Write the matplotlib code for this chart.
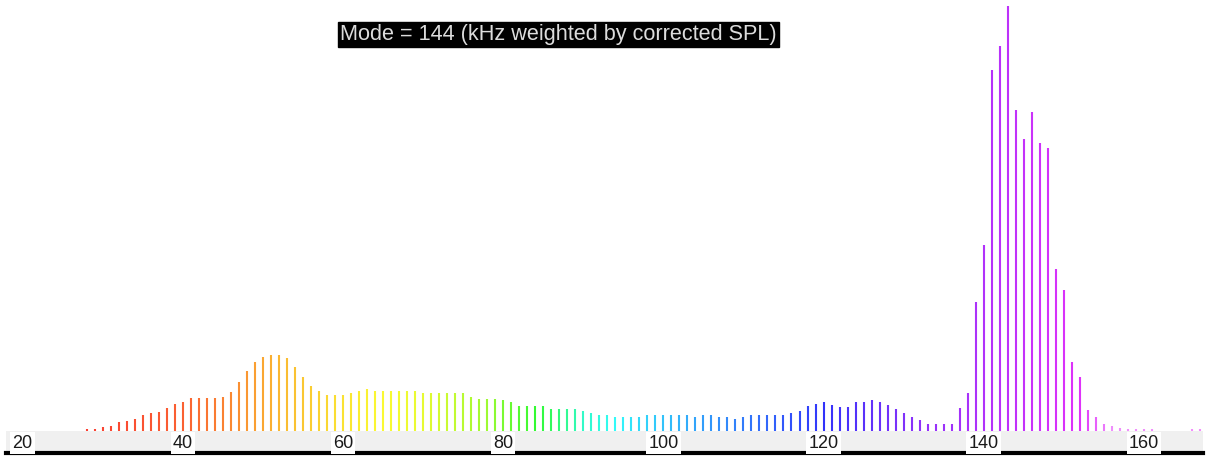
import numpy as np
import matplotlib
matplotlib.use("Agg")
import matplotlib.pyplot as plt
from matplotlib.colors import hsv_to_rgb

# frequency bins (kHz) and weighted counts
freqs = list(range(28, 168))
weights = [
    1.7, 1.7, 3.7, 5.3, 8.7, 10.3, 12.3, 16, 17.7, 19.3,          # 28-37
    23.3, 27, 28.7, 32.7, 32.7, 32.7, 32.7, 34.3, 39.3, 48.7,     # 38-47
    60, 69.3, 74.3, 76.3, 76.3, 72.7, 63.7, 54.3, 45.3, 40,       # 48-57
    36, 36, 36, 38, 40, 41.7, 40, 40, 40, 40,                     # 58-67
    40, 40, 38, 38, 38, 38, 38, 38, 34.3, 32.3,                   # 68-77
    32.3, 32.3, 30.7, 28.7, 25.3, 25.3, 25.3, 25.3, 21.7, 21.7,   # 78-87
    21.7, 21.7, 20, 18, 16, 16, 14.3, 14.3, 14.3, 14.3,           # 88-97
    16, 16, 16, 16, 16, 16, 14.3, 16, 16, 14.3,                   # 98-107
    14.3, 12.3, 14.3, 16, 16, 16, 16, 16, 18, 20,                 # 108-117
    25.5, 27.3, 29, 25.7, 23.7, 23.7, 29, 29, 30.7, 29,           # 118-127
    25.7, 21.7, 18, 14.5, 10.7, 7, 7, 7, 7, 23.5,                 # 128-137
    38, 129.3, 186, 361.3, 385, 425.3, 321.3, 292, 319.3, 288.3,  # 138-147
    282.7, 162.3, 140.7, 69, 54.3, 21.5, 14.3, 7, 5, 3.3,         # 148-157
    1.7, 1.7, 1.7, 1.7, 0, 0, 0, 0, 1.7, 1.7,                     # 158-167
]
tick_values = [20, 40, 60, 80, 100, 120, 140, 160]
title = "Mode = 144 (kHz weighted by corrected SPL)"

# rainbow colouring along frequency
hue_f = [28, 40, 47, 52, 57, 62, 70, 78, 85, 90, 97, 105, 112, 118, 125, 132, 140, 148, 152, 167]
hue_d = [4, 14, 28, 40, 48, 56, 66, 88, 125, 165, 190, 208, 222, 235, 252, 268, 278, 288, 292, 295]
f = np.array(freqs, dtype=float)
h = np.interp(f, hue_f, hue_d) / 360.0
s = np.full_like(f, 0.8)
v = np.full_like(f, 0.98)
rgb = hsv_to_rgb(np.column_stack([h, s, v]))
fade = np.clip((f - 152) / 4.0, 0, 1) * 0.45
rgb = rgb * (1 - fade[:, None]) + fade[:, None]

W, H = 1208, 466
fig = plt.figure(figsize=(W / 100, H / 100), dpi=100)

x0, x1 = 6, 1203
left = 28 - (86.7 - x0) / 8.009
right = 28 + (x1 - 86.7) / 8.009

ax = fig.add_axes([x0 / W, (H - 431) / H, (x1 - x0) / W, 431 / H])
ax.vlines(freqs, 0, weights, colors=rgb, linewidth=1.5)
ax.set_xlim(left, right)
ax.set_ylim(0, 431)
ax.axis("off")

ax.text((558.5 - x0) / (x1 - x0), 1 - 34.5 / 431, title, transform=ax.transAxes,
        ha="center", va="center", fontsize=15.6, family="Liberation Sans",
        color="#dcdcdc",
        bbox=dict(facecolor="black", edgecolor="black", pad=1.2))

# grey band with tick labels
band = fig.add_axes([x0 / W, (H - 453) / H, (x1 - x0) / W, 22 / H])
band.set_facecolor("#f0f0f0")
band.set_xlim(left, right)
band.set_ylim(0, 1)
band.set_xticks([])
band.set_yticks([])
for side in ["top", "left", "right"]:
    band.spines[side].set_visible(False)
band.spines["bottom"].set_linewidth(3)
band.spines["bottom"].set_color("black")
for t in tick_values:
    band.text(t, 0.45, str(t), ha="center", va="center", fontsize=13,
              family="Liberation Sans", color="#1a1a1a",
              bbox=dict(facecolor="white", edgecolor="none", pad=1.5))

fig.savefig("out.png", dpi=100)
